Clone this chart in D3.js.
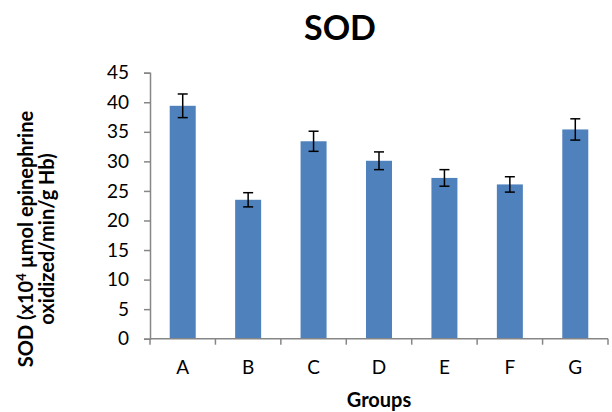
<!DOCTYPE html>
<html>
<head>
<meta charset="utf-8">
<script src="https://cdn.jsdelivr.net/npm/d3@7"></script>
<style>
  body { margin: 0; background: #fff; }
  svg text { font-family: Lato, "Open Sans", sans-serif; }
</style>
</head>
<body>
<svg id="chart" width="612" height="412"></svg>
<script>
// SOD activity by group, with standard-error bars
const groups = ["A", "B", "C", "D", "E", "F", "G"];
const sodValues = [39.4, 23.5, 33.4, 30.1, 27.2, 26.1, 35.4];
const sodErrors = [2.0, 1.2, 1.7, 1.5, 1.4, 1.3, 1.8];
const yTicks = [0, 5, 10, 15, 20, 25, 30, 35, 40, 45];

const svg = d3.select("#chart");
const margin = { left: 150, right: 4, top: 72.7, bottom: 73.3 };
const width = 612 - margin.left - margin.right;
const height = 412 - margin.top - margin.bottom;

const g = svg.append("g").attr("transform", `translate(${margin.left},${margin.top})`);

const xCat = d3.scaleBand().domain(groups).range([0, width]);
const y = d3.scaleLinear().domain([0, 45]).range([height, 0]);

const axisColor = "#868686";
const barWidth = 26;

// Bars
g.selectAll("rect.bar").data(groups).join("rect")
  .attr("class", "bar")
  .attr("x", d => xCat(d) + xCat.bandwidth() / 2 - barWidth / 2)
  .attr("width", barWidth)
  .attr("y", (d, i) => y(sodValues[i]))
  .attr("height", (d, i) => y(0) - y(sodValues[i]))
  .attr("fill", "#4F81BD");

// Error bars
const capHalf = 5;
const eb = g.selectAll("g.err").data(groups).join("g").attr("class", "err")
  .attr("transform", d => `translate(${xCat(d) + xCat.bandwidth() / 2},0)`);
eb.append("line")
  .attr("y1", (d, i) => y(sodValues[i] + sodErrors[i]))
  .attr("y2", (d, i) => y(sodValues[i] - sodErrors[i]));
eb.append("line")
  .attr("x1", -capHalf).attr("x2", capHalf)
  .attr("y1", (d, i) => y(sodValues[i] + sodErrors[i]))
  .attr("y2", (d, i) => y(sodValues[i] + sodErrors[i]));
eb.append("line")
  .attr("x1", -capHalf).attr("x2", capHalf)
  .attr("y1", (d, i) => y(sodValues[i] - sodErrors[i]))
  .attr("y2", (d, i) => y(sodValues[i] - sodErrors[i]));
eb.selectAll("line").attr("stroke", "#000").attr("stroke-width", 1.5);

// Y axis
const yAxis = g.append("g")
  .call(d3.axisLeft(y).tickValues(yTicks).tickSize(6).tickPadding(15));
yAxis.select(".domain").attr("stroke", axisColor).attr("stroke-width", 1.5);
yAxis.selectAll(".tick line").attr("stroke", axisColor).attr("stroke-width", 1.5);
yAxis.selectAll(".tick text").attr("font-size", 19).attr("fill", "#000");

// X axis: ticks sit on category boundaries, labels at category centres
const xAxisG = g.append("g").attr("transform", `translate(0,${height})`);
xAxisG.append("line").attr("x1", 0).attr("x2", width)
  .attr("stroke", axisColor).attr("stroke-width", 1.5);
const bounds = d3.range(groups.length + 1).map(i => i * xCat.step());
xAxisG.selectAll("line.tk").data(bounds).join("line").attr("class", "tk")
  .attr("x1", d => d).attr("x2", d => d).attr("y1", 0).attr("y2", 6)
  .attr("stroke", axisColor).attr("stroke-width", 1.5);
xAxisG.selectAll("text").data(groups).join("text")
  .attr("x", d => xCat(d) + xCat.bandwidth() / 2)
  .attr("y", 35.5)
  .attr("text-anchor", "middle")
  .attr("font-size", 19)
  .text(d => d);

// Title
svg.append("text").attr("x", 340).attr("y", 40).attr("text-anchor", "middle")
  .attr("font-size", 34).attr("font-weight", "bold").text("SOD");

// X axis title
svg.append("text").attr("x", 379).attr("y", 407).attr("text-anchor", "middle")
  .attr("font-size", 20).attr("font-weight", "bold").text("Groups");

// Y axis title (two lines, rotated)
const yt = svg.append("text")
  .attr("transform", "translate(0,239) rotate(-90)")
  .attr("text-anchor", "middle")
  .attr("font-size", 20).attr("font-weight", "bold");
const l1 = yt.append("tspan").attr("x", 0).attr("y", 33);
l1.append("tspan").text("SOD (x10");
l1.append("tspan").attr("font-size", 13).attr("dy", -7).text("4");
l1.append("tspan").attr("dy", 7).text(" \u00b5mol epinephrine");
yt.append("tspan").attr("x", 0).attr("y", 54).text("oxidized/min/g Hb)");
</script>
</body>
</html>
